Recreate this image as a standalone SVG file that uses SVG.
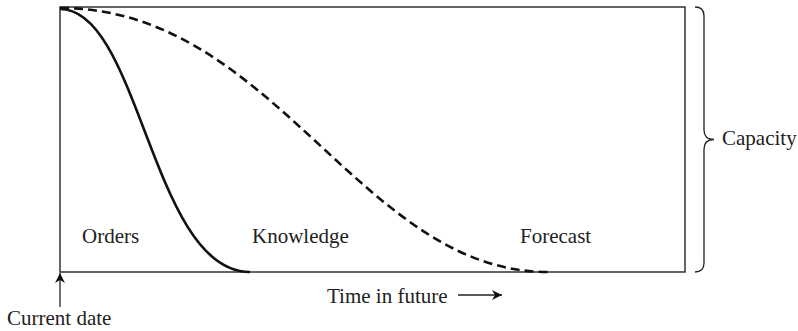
<svg xmlns="http://www.w3.org/2000/svg" width="798" height="331" viewBox="0 0 798 331">
<defs>
<style>
.frame{fill:none;stroke:#333;stroke-width:1.5}
.solid{fill:none;stroke:#111;stroke-width:2.6}
.dash{fill:none;stroke:#111;stroke-width:2.6;stroke-dasharray:9,5}
.thin{fill:none;stroke:#222;stroke-width:1.3}
.lbl{font-size:21px;fill:#222}
</style>
<marker id="ah" viewBox="0 0 10 12" refX="10" refY="6" markerWidth="10" markerHeight="12" markerUnits="userSpaceOnUse" orient="auto">
<path d="M0,1 L10,6 L0,11 L3,6 Z" fill="#111"/>
</marker>
</defs>
<g id="chart">
<rect class="frame" x="60" y="7" width="625" height="265"/>
</g>
<g id="connectors">
<path id="orders-curve" class="solid" d="M60,9 C140,9 152,272 250,272"/>
<path id="knowledge-curve" class="dash" d="M60,8 C275,8 360,272 548,272"/>
<path id="current-arrow" class="thin" d="M60,307 L60,273" marker-end="url(#ah)"/>
<path id="time-arrow" class="thin" d="M458,295 L502,295" marker-end="url(#ah)"/>
<path id="brace" class="thin" d="M695,7 Q704,7 704,16 L704,130 Q704,139.5 714,139.5 Q704,139.5 704,149 L704,263 Q704,272 695,272"/>
</g>
<g id="orders"><text class="lbl" font-family="'Liberation Serif', 'Times New Roman', 'DejaVu Serif', serif" x="82" y="243">Orders</text></g>
<g id="knowledge"><text class="lbl" font-family="'Liberation Serif', 'Times New Roman', 'DejaVu Serif', serif" x="252" y="243">Knowledge</text></g>
<g id="forecast"><text class="lbl" font-family="'Liberation Serif', 'Times New Roman', 'DejaVu Serif', serif" x="520" y="243">Forecast</text></g>
<g id="time"><text class="lbl" font-family="'Liberation Serif', 'Times New Roman', 'DejaVu Serif', serif" x="327" y="303">Time in future</text></g>
<g id="current"><text class="lbl" font-family="'Liberation Serif', 'Times New Roman', 'DejaVu Serif', serif" x="7" y="325">Current date</text></g>
<g id="capacity"><text class="lbl" font-family="'Liberation Serif', 'Times New Roman', 'DejaVu Serif', serif" x="722" y="145">Capacity</text></g>
</svg>
